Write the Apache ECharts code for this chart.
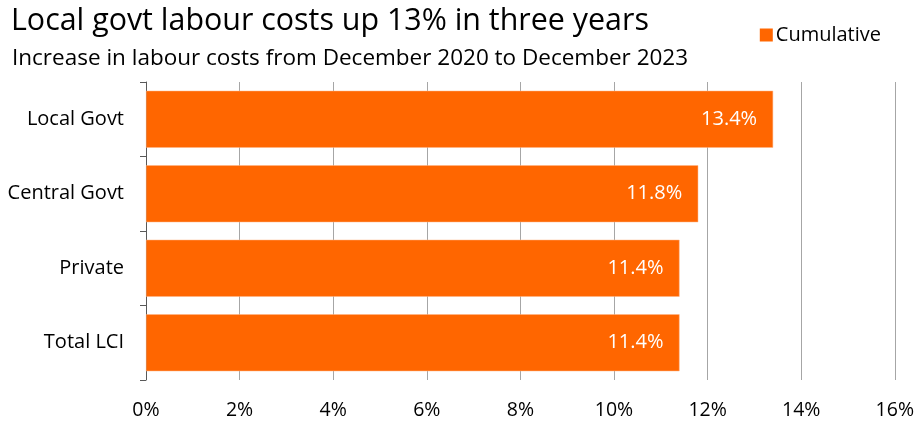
<!DOCTYPE html>
<html>
<head>
<meta charset="utf-8">
<script src="https://cdn.jsdelivr.net/npm/echarts@6/dist/echarts.min.js"></script>
<style>
  html, body { margin: 0; padding: 0; background: #fff; }
  #chart { width: 917px; height: 425px; }
</style>
</head>
<body>
<div id="chart"></div>
<script>
// Labour cost index, cumulative change Dec 2020 – Dec 2023
const categories = ['Local Govt', 'Central Govt', 'Private', 'Total LCI'];
const cumulative = [13.4, 11.8, 11.4, 11.4];
const xTicks = [0, 2, 4, 6, 8, 10, 12, 14, 16];

const FONT = '"Open Sans", "Noto Sans", sans-serif';
const ORANGE = '#FF6600';

const chart = echarts.init(document.getElementById('chart'), null, { renderer: 'canvas' });

chart.setOption({
  animation: false,
  textStyle: { fontFamily: FONT },
  title: [
    {
      text: 'Local govt labour costs up 13% in three years',
      left: 6, top: 1,
      textStyle: { fontFamily: FONT, fontSize: 30.4, fontWeight: 'normal', color: '#000' }
    },
    {
      text: 'Increase in labour costs from December 2020 to December 2023',
      left: 7, top: 42,
      textStyle: { fontFamily: FONT, fontSize: 22.5, fontWeight: 'normal', color: '#000' }
    }
  ],
  legend: {
    data: ['Cumulative'],
    right: 31, top: 20,
    itemWidth: 13, itemHeight: 13, itemGap: 6,
    icon: 'rect',
    itemStyle: { borderWidth: 0 },
    textStyle: { fontFamily: FONT, fontSize: 20, color: '#000', padding: [0, 0, 0, -2] }
  },
  grid: { left: 146, right: 22, top: 82, bottom: 45, containLabel: false },
  xAxis: {
    type: 'value',
    min: xTicks[0], max: xTicks[xTicks.length - 1], interval: 2,
    axisLine: { show: false },
    axisTick: { show: false },
    axisLabel: {
      formatter: v => v + '%',
      fontFamily: FONT, fontSize: 19.5, color: '#000', margin: 20
    },
    splitLine: { show: true, lineStyle: { color: '#a6a6a6', width: 1 } }
  },
  yAxis: {
    type: 'category',
    data: categories,
    inverse: true,
    axisLine: { show: true, lineStyle: { color: '#595959', width: 1 } },
    axisTick: { show: true, length: 6, lineStyle: { color: '#595959' } },
    axisLabel: { fontFamily: FONT, fontSize: 20, color: '#000', margin: 22 }
  },
  series: [{
    name: 'Cumulative',
    type: 'bar',
    data: cumulative,
    barCategoryGap: '23.5%',
    itemStyle: { color: ORANGE, borderColor: '#ffb485', borderWidth: 0.5 },
    label: {
      show: true,
      position: 'insideRight',
      distance: 16,
      formatter: p => p.value.toFixed(1) + '%',
      fontFamily: FONT, fontSize: 20, color: '#fff'
    }
  }]
});
</script>
</body>
</html>
